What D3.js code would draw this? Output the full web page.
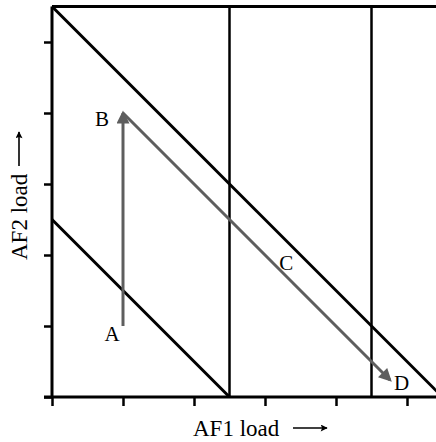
<!DOCTYPE html>
<html>
<head>
<meta charset="utf-8">
<script src="https://cdn.jsdelivr.net/npm/d3@7"></script>
<style>
  html, body { margin: 0; padding: 0; background: #fff; }
  svg { display: block; }
</style>
</head>
<body>
<div id="chart"></div>
<script>
// ticks on both axes (no tick labels in the original)
const xTicks = [0, 1, 2, 3, 4, 5];
const yTicks = [0, 1, 2, 3, 4, 5];

// diagonal load limits: AF1 + AF2 = total
const diagonalTotals = [5.5, 2.5];
// vertical AF1 limits
const verticalLimits = [2.5, 4.5];

// operating points
const pointNames = ["A", "B", "C", "D"];
const pointAF1 = [1, 1, 3.3, 4.76];
const pointAF2 = [1, 4, 1.7, 0.24];

(function () {
  const W = 436, H = 442;
  const svg = d3.select("#chart").append("svg")
    .attr("width", W)
    .attr("height", H);

  const x = d3.scaleLinear().domain([0, 5.5]).range([52, 52 + 5.5 * 71]);
  const y = d3.scaleLinear().domain([0, 5.5]).range([397, 397 - 5.5 * 71]);

  const font = "'Liberation Serif', 'Times New Roman', serif";
  const grey = "#5e5e5e";

  const defs = svg.append("defs");
  defs.append("marker")
    .attr("id", "head")
    .attr("viewBox", "0 0 10 10")
    .attr("refX", 8).attr("refY", 5)
    .attr("markerUnits", "userSpaceOnUse")
    .attr("markerWidth", 15).attr("markerHeight", 13)
    .attr("orient", "auto")
    .append("path")
    .attr("d", "M0,0 L10,5 L0,10 z")
    .attr("fill", grey);
  defs.append("marker")
    .attr("id", "smallhead")
    .attr("viewBox", "0 0 10 10")
    .attr("refX", 9).attr("refY", 5)
    .attr("markerUnits", "userSpaceOnUse")
    .attr("markerWidth", 9).attr("markerHeight", 7)
    .attr("orient", "auto")
    .append("path")
    .attr("d", "M0,0 L10,5 L0,10 L2,5 z")
    .attr("fill", "#000");

  // axes
  const xAxis = svg.append("g")
    .attr("transform", `translate(0,${y(0)})`)
    .call(d3.axisBottom(x).tickValues(xTicks).tickSize(9).tickFormat(""));
  const yAxis = svg.append("g")
    .attr("transform", `translate(${x(0)},0)`)
    .call(d3.axisLeft(y).tickValues(yTicks).tickSize(8).tickFormat(""));
  [xAxis, yAxis].forEach(g => {
    g.select(".domain").remove();
    g.selectAll(".tick line").attr("stroke", "#000").attr("stroke-width", 2.5);
  });

  // frame: left, bottom, top
  svg.append("line")
    .attr("x1", x(0)).attr("x2", x(0))
    .attr("y1", y(5.5)).attr("y2", y(0))
    .attr("stroke", "#000").attr("stroke-width", 3);
  svg.append("line")
    .attr("x1", x(0) - 8).attr("x2", W)
    .attr("y1", y(0)).attr("y2", y(0))
    .attr("stroke", "#000").attr("stroke-width", 3);
  svg.append("line")
    .attr("x1", x(0)).attr("x2", W)
    .attr("y1", y(5.5)).attr("y2", y(5.5))
    .attr("stroke", "#000").attr("stroke-width", 3);

  // vertical limits
  svg.selectAll(".vlim")
    .data(verticalLimits)
    .join("line")
    .attr("x1", d => x(d)).attr("x2", d => x(d))
    .attr("y1", y(5.5)).attr("y2", y(0))
    .attr("stroke", "#000").attr("stroke-width", 2.5);

  // diagonal limits
  svg.selectAll(".diag")
    .data(diagonalTotals)
    .join("line")
    .attr("x1", x(0)).attr("y1", d => y(d))
    .attr("x2", d => x(d)).attr("y2", y(0))
    .attr("stroke", "#000").attr("stroke-width", 3);

  // path A -> B -> D
  const pts = pointNames.map((n, i) => ({ name: n, ax: pointAF1[i], ay: pointAF2[i] }));
  const P = n => pts.find(p => p.name === n);
  [["A", "B"], ["B", "D"]].forEach(([a, b]) => {
    svg.append("line")
      .attr("x1", x(P(a).ax)).attr("y1", y(P(a).ay))
      .attr("x2", x(P(b).ax)).attr("y2", y(P(b).ay))
      .attr("stroke", grey).attr("stroke-width", 3)
      .attr("marker-end", "url(#head)");
  });

  const labelOffset = {
    A: { dx: -11, dy: 15, anchor: "middle" },
    B: { dx: -14, dy: 13, anchor: "end" },
    C: { dx: 0, dy: -6, anchor: "middle" },
    D: { dx: 4, dy: 10, anchor: "start" }
  };
  svg.selectAll(".ptlabel")
    .data(pts)
    .join("text")
    .attr("x", d => x(d.ax) + labelOffset[d.name].dx)
    .attr("y", d => y(d.ay) + labelOffset[d.name].dy)
    .attr("text-anchor", d => labelOffset[d.name].anchor)
    .style("font-family", font)
    .style("font-size", "21px")
    .text(d => d.name);

  // axis titles with arrows
  svg.append("text")
    .attr("x", 193).attr("y", 436)
    .style("font-family", font)
    .style("font-size", "23px")
    .text("AF1 load");
  svg.append("line")
    .attr("x1", 293).attr("x2", 327)
    .attr("y1", 428).attr("y2", 428)
    .attr("stroke", "#000").attr("stroke-width", 1.6)
    .attr("marker-end", "url(#smallhead)");

  svg.append("text")
    .attr("transform", "translate(27,260) rotate(-90)")
    .style("font-family", font)
    .style("font-size", "23px")
    .text("AF2 load");
  svg.append("line")
    .attr("x1", 19).attr("x2", 19)
    .attr("y1", 166).attr("y2", 132)
    .attr("stroke", "#000").attr("stroke-width", 1.6)
    .attr("marker-end", "url(#smallhead)");
})();
</script>
</body>
</html>
